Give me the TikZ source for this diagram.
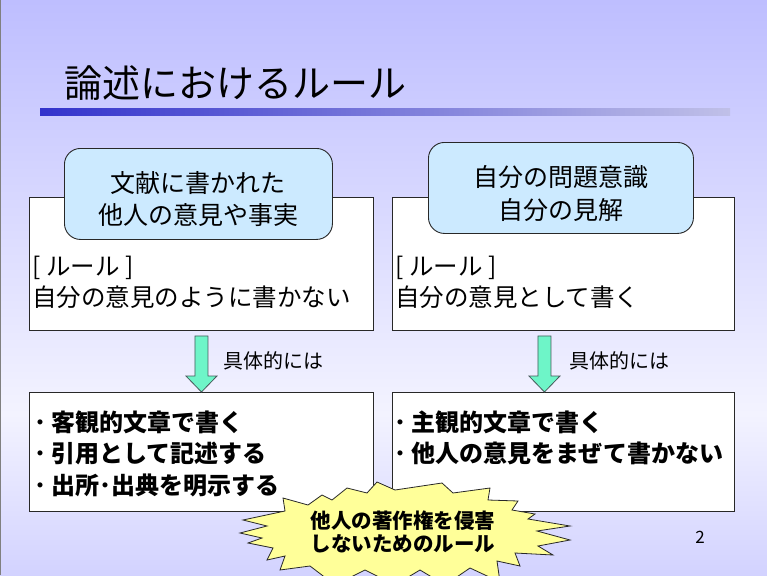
\documentclass[tikz,border=0pt]{standalone}
\usepackage{fontspec}
\setmainfont{Noto Sans CJK JP}
\usetikzlibrary{calc}
\definecolor{bgt}{RGB}{153,153,255}
\definecolor{bgm}{RGB}{243,243,255}
\definecolor{bgb}{RGB}{152,152,255}
\definecolor{barL}{RGB}{51,51,204}
\definecolor{barR}{RGB}{192,192,232}
\definecolor{boxline}{RGB}{40,40,40}
\definecolor{capfill}{RGB}{204,234,255}
\definecolor{arrfill}{RGB}{110,245,200}
\definecolor{arrline}{RGB}{70,90,90}
\definecolor{burstfill}{RGB}{255,255,153}
\pgfdeclareverticalshading{bgshade}{100bp}{color(0bp)=(bgb); color(39bp)=(bgm); color(100bp)=(bgt)}
\begin{document}
\begin{tikzpicture}[x=1pt,y=-1pt,
  box/.style={draw=boxline, fill=white, line width=0.9pt, inner sep=0pt, anchor=north west},
  rbox/.style={draw=boxline, fill=capfill, rounded corners=16pt, line width=0.9pt, inner sep=0pt, anchor=north west},
  blk/.style={draw=arrline, fill=arrfill, line width=0.8pt},
  burst/.style={draw=boxline, fill=burstfill, line width=0.8pt},
  txt/.style={inner sep=0pt, anchor=west, font=\fontsize{24.5}{30}\selectfont},
  btxt/.style={inner sep=0pt, anchor=west, font=\fontsize{24}{30}\selectfont\bfseries},
  lbl/.style={inner sep=0pt, anchor=west, font=\fontsize{20}{24}\selectfont}]
\useasboundingbox (0,0) rectangle (767,575);
\clip (0,0) rectangle (767,575);
\shade[shading=bgshade] (0,0) rectangle (767,575);
\draw[gray, line width=1pt] (0.5,0) -- (0.5,575);
% title
\node[inner sep=0pt, anchor=west, font=\fontsize{38}{40}\selectfont] (title) at (64,83) {論述におけるルール};
\fill[left color=barL, right color=barR] (40,108) rectangle (730,115);
% top boxes
\node[box, minimum width=344pt, minimum height=133pt] (tl) at (29,197) {};
\node[box, minimum width=342pt, minimum height=133pt] (tr) at (392,197) {};
\node[rbox, minimum width=268pt, minimum height=91pt] (rl) at (64,148) {};
\node[rbox, minimum width=265pt, minimum height=91pt] (rr) at (428,142) {};
\node[align=center, inner sep=0pt, font=\fontsize{25}{32}\selectfont] (rlt) at ($(rl.center)+(0,5)$) {文献に書かれた\\他人の意見や事実};
\node[align=center, inner sep=0pt, font=\fontsize{25}{33}\selectfont] (rrt) at ($(rr.center)+(0,6)$) {自分の問題意識\\自分の見解};
\node[txt] (tl1) at (32,268) {[\hspace{6pt}ルール\hspace{6pt}]};
\node[txt] (tl2) at (32,297) {自分の意見のように書かない};
\node[txt] (tr1) at (395,268) {[\hspace{6pt}ルール\hspace{6pt}]};
\node[txt] (tr2) at (395,297) {自分の意見として書く};
% bottom boxes
\node[box, minimum width=344pt, minimum height=119pt] (bl) at (29,392) {};
\node[box, minimum width=342pt, minimum height=119pt] (br) at (392,392) {};
\node[btxt] (bl1) at (34,422) {･\hspace{5pt}客観的文章で書く};
\node[btxt] (bl2) at (34,453) {･\hspace{5pt}引用として記述する};
\node[btxt] (bl3) at (34,485) {･\hspace{5pt}出所･出典を明示する};
\node[btxt] (br1) at (394,422) {･\hspace{5pt}主観的文章で書く};
\node[btxt] (br2) at (394,453) {･\hspace{5pt}他人の意見をまぜて書かない};
% arrows
\coordinate (la) at ($(tl.south)+(0,5)$);
\coordinate (lb) at (bl.north);
\coordinate (ra) at ($(tr.south)+(-19,5)$);
\coordinate (rb) at ($(br.north)+(-19,0)$);
\draw[blk] ($(la)+(-6.5,0)$) -- ($(la)+(6.5,0)$) -- ($(lb)+(6.5,-16)$) -- ($(lb)+(15.5,-16)$) -- (lb) -- ($(lb)+(-15.5,-16)$) -- ($(lb)+(-6.5,-16)$) -- cycle;
\draw[blk] ($(ra)+(-6.5,0)$) -- ($(ra)+(6.5,0)$) -- ($(rb)+(6.5,-16)$) -- ($(rb)+(15.5,-16)$) -- (rb) -- ($(rb)+(-15.5,-16)$) -- ($(rb)+(-6.5,-16)$) -- cycle;
\node[lbl] (ll) at (223,361) {具体的には};
\node[lbl] (rl2) at (569,361) {具体的には};
% starburst
\draw[burst] (283,498) -- (308,505) -- (322,495) -- (332,500) -- (347,488) -- (367,493) -- (377,482) -- (395,490) -- (442,483) -- (453,493) -- (490,488) -- (488,500) -- (518,501) -- (512,510) -- (535,514) -- (528,519) -- (570,526) -- (537,531) -- (570,540) -- (538,546) -- (553,555) -- (515,553) -- (520,566) -- (497,561) -- (500,582) -- (470,568) -- (445,585) -- (420,570) -- (395,585) -- (365,570) -- (335,585) -- (310,566) -- (280,570) -- (285,556) -- (267,560) -- (273,548) -- (248,543) -- (262,538) -- (240,533) -- (267,526) -- (243,520) -- (285,511) -- cycle;
\node[align=center, inner sep=0pt, font=\fontsize{20.5}{22.5}\selectfont\bfseries] (bt) at (403,532) {他人の著作権を侵害\\しないためのルール};
% page number
\node[inner sep=0pt, font=\fontsize{17}{20}\selectfont] (pg) at (700,537) {2};
\end{tikzpicture}
\end{document}
